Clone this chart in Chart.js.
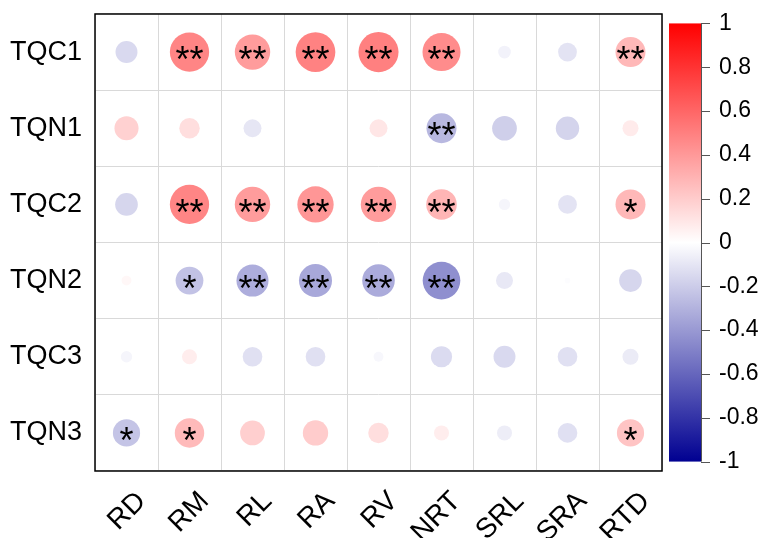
<!DOCTYPE html>
<html>
<head>
<meta charset="utf-8">
<script src="https://cdn.jsdelivr.net/npm/chart.js@4"></script>
<style>
  html, body { margin: 0; padding: 0; background: #fff; }
</style>
</head>
<body>
<canvas id="corr" width="764" height="538"></canvas>
<script>
// columns (root traits) and rows (indices)
const traits = ["RD", "RM", "RL", "RA", "RV", "NRT", "SRL", "SRA", "RTD"];
const indices = ["TQC1", "TQN1", "TQC2", "TQN2", "TQC3", "TQN3"];

// correlation coefficients, one array per row
const rTQC1 = [-0.15, 0.48, 0.39, 0.49, 0.50, 0.45, -0.05, -0.11, 0.28];
const rTQN1 = [0.18, 0.13, -0.10, 0.00, 0.10, -0.28, -0.19, -0.17, 0.08];
const rTQC2 = [-0.16, 0.48, 0.39, 0.41, 0.39, 0.29, -0.04, -0.11, 0.28];
const rTQN2 = [0.03, -0.24, -0.32, -0.34, -0.33, -0.44, -0.09, -0.01, -0.16];
const rTQC3 = [-0.04, 0.07, -0.12, -0.12, -0.03, -0.14, -0.15, -0.12, -0.08];
const rTQN3 = [-0.23, 0.27, 0.19, 0.20, 0.13, 0.07, -0.07, -0.12, 0.23];

// significance marks
const sTQC1 = ["", "**", "**", "**", "**", "**", "", "", "**"];
const sTQN1 = ["", "", "", "", "", "**", "", "", ""];
const sTQC2 = ["", "**", "**", "**", "**", "**", "", "", "*"];
const sTQN2 = ["", "*", "**", "**", "**", "**", "", "", ""];
const sTQC3 = ["", "", "", "", "", "", "", "", ""];
const sTQN3 = ["*", "*", "", "", "", "", "", "", "*"];

const colorbarTicks = [1, 0.8, 0.6, 0.4, 0.2, 0, -0.2, -0.4, -0.6, -0.8, -1];

const rValues = [rTQC1, rTQN1, rTQC2, rTQN2, rTQC3, rTQN3];
const sigMarks = [sTQC1, sTQN1, sTQC2, sTQN2, sTQC3, sTQN3];

const FONT = "'Liberation Sans', Arial, sans-serif";

const points = indices.flatMap((row, i) => traits.map((col, j) => ({ x: col, y: row, v: rValues[i][j], sig: sigMarks[i][j] })));

function corrColor(v) {
    const t = Math.min(Math.abs(v), 1);
    const c = Math.round(255 * (1 - t));
    if (v >= 0) return `rgb(255,${c},${c})`;
    return `rgb(${c},${c},${Math.round(255 - 110 * t)})`;
}

function circleRadius(ctx) {
    const area = ctx.chart.chartArea;
    if (!area || !ctx.raw) return 0;
    const cellW = (area.right - area.left) / traits.length;
    return 0.45 * Math.sqrt(Math.abs(ctx.raw.v)) * cellW;
}

// axes keep their exact size, no extra label padding around the plot
function fixedSize(w, h) {
    return s => {
        if (w !== null) s.width = w;
        if (h !== null) s.height = h;
        s.paddingTop = s.paddingBottom = s.paddingLeft = s.paddingRight = 0;
    };
}

const frameAndStars = {
    id: "frameAndStars",
    afterDatasetsDraw(chart) {
        const { ctx, chartArea: a } = chart;
        ctx.save();
        ctx.strokeStyle = "#000";
        ctx.lineWidth = 1.5;
        ctx.strokeRect(a.left, a.top, a.right - a.left, a.bottom - a.top);

        const size = 36;
        ctx.fillStyle = "#000";
        ctx.font = `${size}px ${FONT}`;
        ctx.textAlign = "center";
        ctx.textBaseline = "alphabetic";
        const meta = chart.getDatasetMeta(0);
        meta.data.forEach((el, i) => {
            const sig = points[i].sig;
            if (sig) ctx.fillText(sig, el.x, el.y + size * 0.56);
        });
        ctx.restore();
    }
};

const colorbar = {
    id: "colorbar",
    afterDraw(chart) {
        const { ctx, chartArea: a } = chart;
        const cb = chart.scales.cb;
        const x0 = a.right + 7, x1 = a.right + 39;
        const yTop = cb.getPixelForValue(1), yBot = cb.getPixelForValue(-1);
        const grad = ctx.createLinearGradient(0, yTop, 0, yBot);
        grad.addColorStop(0, corrColor(1));
        grad.addColorStop(0.5, corrColor(0));
        grad.addColorStop(1, corrColor(-1));
        ctx.save();
        ctx.fillStyle = grad;
        ctx.fillRect(x0, yTop, x1 - x0, yBot - yTop);
        ctx.strokeStyle = "#555";
        ctx.lineWidth = 1;
        ctx.beginPath();
        ctx.moveTo(x1 + 0.5, yTop);
        ctx.lineTo(x1 + 0.5, yBot);
        colorbarTicks.forEach(v => {
            const y = Math.round(cb.getPixelForValue(v)) + 0.5;
            ctx.moveTo(x1, y);
            ctx.lineTo(x1 + 9, y);
        });
        ctx.stroke();
        ctx.restore();
    }
};

new Chart(document.getElementById("corr"), {
    type: "scatter",
    data: {
        datasets: [{
            data: points,
            pointRadius: circleRadius,
            pointHoverRadius: circleRadius,
            pointBackgroundColor: ctx => corrColor(ctx.raw ? ctx.raw.v : 0),
            pointBorderWidth: 0,
            pointHoverBorderWidth: 0
        }]
    },
    options: {
        responsive: false,
        animation: false,
        events: [],
        layout: { padding: { top: 14, left: 0, right: 0, bottom: 0 } },
        plugins: { legend: { display: false }, tooltip: { enabled: false } },
        scales: {
            x: {
                type: "category",
                labels: traits,
                offset: true,
                grid: { offset: true, color: "#d9d9d9", drawTicks: false },
                border: { display: false },
                ticks: { color: "#000", font: { family: FONT, size: 28 }, minRotation: 45, maxRotation: 45, autoSkip: false, padding: 14, labelOffset: 15 },
                afterFit: fixedSize(null, 67)
            },
            y: {
                type: "category",
                labels: indices,
                offset: true,
                grid: { offset: true, color: "#d9d9d9", drawTicks: false },
                border: { display: false },
                ticks: { color: "#000", font: { family: FONT, size: 27 }, padding: 13 },
                afterFit: fixedSize(95, null)
            },
            cb: {
                type: "linear",
                position: "right",
                min: -1.043,
                max: 1.043,
                grid: { display: false, drawTicks: false },
                border: { display: false },
                afterBuildTicks: s => { s.ticks = colorbarTicks.map(value => ({ value })); },
                ticks: { color: "#000", font: { family: FONT, size: 23 }, padding: 57, callback: v => String(Math.round(v * 10) / 10) },
                afterFit: fixedSize(102, null)
            }
        }
    },
    plugins: [colorbar, frameAndStars]
});
</script>
</body>
</html>
